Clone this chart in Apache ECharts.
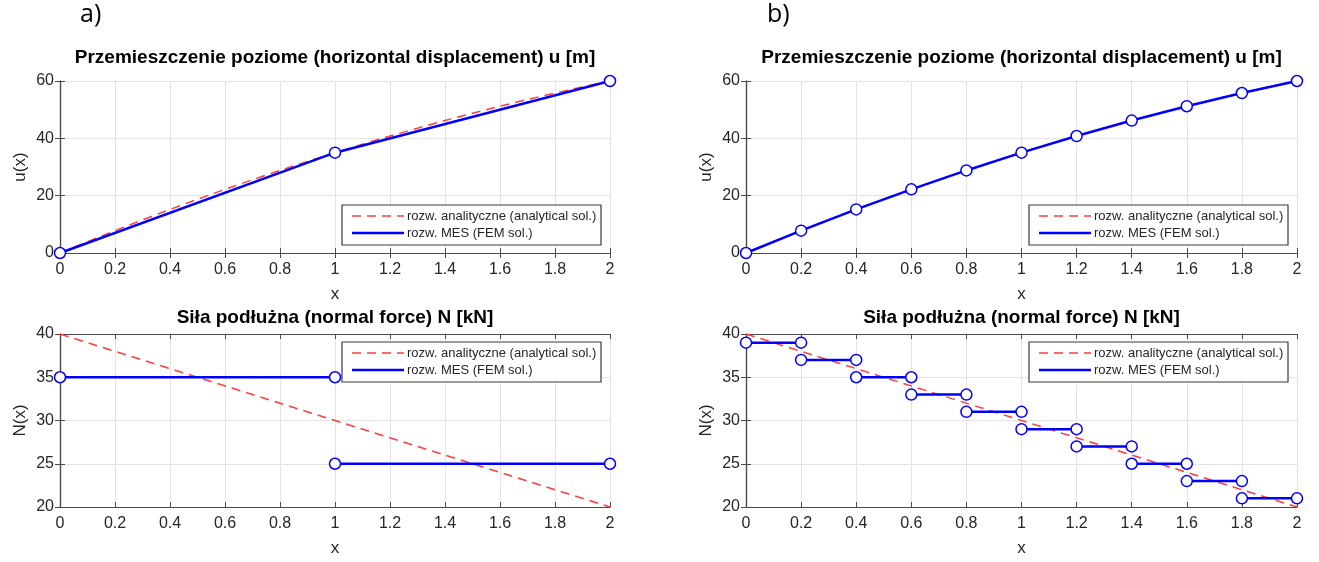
<!DOCTYPE html>
<html>
<head>
<meta charset="utf-8">
<script src="https://cdn.jsdelivr.net/npm/echarts@6/dist/echarts.min.js"></script>
<style>
html,body{margin:0;padding:0;background:#fff;}
#c{width:1319px;height:562px;}
</style>
</head>
<body>
<div id="c"></div>
<script>
// ---------- data ----------
const xTicks = [0, 0.2, 0.4, 0.6, 0.8, 1, 1.2, 1.4, 1.6, 1.8, 2];
const uTicks = [0, 20, 40, 60];
const nTicks = [20, 25, 30, 35, 40];

// analytical displacement u(x)
const xAnalytic = [0, 0.1, 0.2, 0.3, 0.4, 0.5, 0.6, 0.7, 0.8, 0.9, 1, 1.1, 1.2, 1.3, 1.4, 1.5, 1.6, 1.7, 1.8, 1.9, 2];
const uAnalytic = [0, 3.95, 7.8, 11.55, 15.2, 18.75, 22.2, 25.55, 28.8, 31.95, 35, 37.95, 40.8, 43.55, 46.2, 48.75, 51.2, 53.55, 55.8, 57.95, 60];
// analytical normal force N(x)
const xNAnalytic = [0, 2];
const nAnalytic = [40, 20];

// FEM, case a) 2 elements
const nodesA = [0, 1, 2];
const uFemA = [0, 35, 60];
const nFemA = [35, 25];
// FEM, case b) 10 elements
const nodesB = [0, 0.2, 0.4, 0.6, 0.8, 1, 1.2, 1.4, 1.6, 1.8, 2];
const uFemB = [0, 7.8, 15.2, 22.2, 28.8, 35, 40.8, 46.2, 51.2, 55.8, 60];
const nFemB = [39, 37, 35, 33, 31, 29, 27, 25, 23, 21];

const titleU = 'Przemieszczenie poziome (horizontal displacement) u [m]';
const titleN = 'Siła podłużna (normal force) N [kN]';
const legAnalytic = 'rozw. analityczne (analytical sol.)';
const legFem = 'rozw. MES (FEM sol.)';

// ---------- layout ----------
const FONT = '"Liberation Sans", Arial, sans-serif';
const grids = [
  {left: 60, top: 81, width: 550, height: 172},   // a top
  {left: 60, top: 334, width: 550, height: 173},  // a bottom
  {left: 746, top: 81, width: 551, height: 172},  // b top
  {left: 746, top: 334, width: 551, height: 173}  // b bottom
];
const RED = '#ff3d3d';
const BLUE = '#0000ff';
const AX = '#4a4a4a';
const TXT = '#262626';

const xAxes = [], yAxes = [], series = [], graphics = [];

grids.forEach((g, i) => {
  const isU = (i % 2 === 0);
  const yt = isU ? uTicks : nTicks;
  const ymin = yt[0], ymax = yt[yt.length - 1], yint = yt[1] - yt[0];
  const xmin = xTicks[0], xmax = xTicks[xTicks.length - 1], xint = 0.2;
  // bottom x
  xAxes.push({
    gridIndex: i, type: 'value', min: xmin, max: xmax, interval: xint,
    axisLine: {show: true, lineStyle: {color: AX, width: 1.2}},
    axisTick: {show: true, inside: true, length: 5, lineStyle: {color: AX}},
    axisLabel: {color: TXT, fontSize: 16, fontFamily: FONT, margin: 9},
    splitLine: {show: true, lineStyle: {color: '#e3e3e3', width: 1}},
    name: 'x', nameLocation: 'middle', nameGap: 33,
    nameTextStyle: {color: TXT, fontSize: 17, fontFamily: FONT}
  });
  // top x (box)
  xAxes.push({
    gridIndex: i, type: 'value', position: 'top', min: xmin, max: xmax, interval: xint,
    axisLine: {show: true, lineStyle: {color: AX, width: 1.2}},
    axisTick: {show: true, inside: true, length: 5, lineStyle: {color: AX}},
    axisLabel: {show: false}, splitLine: {show: false}
  });
  // left y
  yAxes.push({
    gridIndex: i, type: 'value', min: ymin, max: ymax, interval: yint,
    axisLine: {show: true, lineStyle: {color: AX, width: 1.2}},
    axisTick: {show: true, inside: true, length: 5, lineStyle: {color: AX}},
    axisLabel: {color: TXT, fontSize: 16, fontFamily: FONT, margin: 6},
    splitLine: {show: true, lineStyle: {color: '#e3e3e3', width: 1}},
    name: isU ? 'u(x)' : 'N(x)', nameLocation: 'middle', nameGap: 31,
    nameTextStyle: {color: TXT, fontSize: 17, fontFamily: FONT}
  });
  // right y (box)
  yAxes.push({
    gridIndex: i, type: 'value', position: 'right', min: ymin, max: ymax, interval: yint,
    axisLine: {show: true, lineStyle: {color: AX, width: 1.2}},
    axisTick: {show: true, inside: true, length: 5, lineStyle: {color: AX}},
    axisLabel: {show: false}, splitLine: {show: false}
  });

  // title
  graphics.push({
    type: 'text', x: g.left + g.width / 2, y: isU ? 58 : 318,
    style: {text: isU ? titleU : titleN, font: 'bold 19px ' + FONT, fill: '#000',
      textAlign: 'center', textVerticalAlign: 'middle'}
  });

  // legend box
  const bw = 259, bh = 40;
  const bx = g.left + g.width - bw - 9;
  const by = isU ? g.top + g.height - bh - 8 : g.top + 8;
  graphics.push({type: 'rect', shape: {x: bx, y: by, width: bw, height: bh},
    style: {fill: '#fff', stroke: '#3a3a3a', lineWidth: 1.2}, z: 100});
  graphics.push({type: 'line', shape: {x1: bx + 10, y1: by + 11, x2: bx + 62, y2: by + 11},
    style: {stroke: RED, lineWidth: 1.5, lineDash: [9, 6]}, z: 101});
  graphics.push({type: 'line', shape: {x1: bx + 10, y1: by + 28, x2: bx + 62, y2: by + 28},
    style: {stroke: BLUE, lineWidth: 2.5}, z: 101});
  graphics.push({type: 'text', x: bx + 65, y: by + 11,
    style: {text: legAnalytic, font: '13px ' + FONT, fill: TXT, textVerticalAlign: 'middle'}, z: 101});
  graphics.push({type: 'text', x: bx + 65, y: by + 28,
    style: {text: legFem, font: '13px ' + FONT, fill: TXT, textVerticalAlign: 'middle'}, z: 101});
});

function pairs(xs, ys) { return xs.map((x, k) => [x, ys[k]]); }

const femSym = {symbol: 'circle', symbolSize: 11, showAllSymbol: true,
  itemStyle: {color: '#fff', borderColor: BLUE, borderWidth: 1.5}};

function analyticU(i) {
  series.push({type: 'line', xAxisIndex: 2 * i, yAxisIndex: 2 * i, data: pairs(xAnalytic, uAnalytic),
    symbol: 'none', lineStyle: {color: RED, width: 1.5, type: [9, 6]}, z: 2, silent: true, animation: false});
}
function analyticN(i) {
  series.push({type: 'line', xAxisIndex: 2 * i, yAxisIndex: 2 * i, data: pairs(xNAnalytic, nAnalytic),
    symbol: 'none', lineStyle: {color: RED, width: 1.5, type: [9, 6]}, z: 2, silent: true, animation: false});
}
function femU(i, nodes, vals) {
  series.push(Object.assign({type: 'line', xAxisIndex: 2 * i, yAxisIndex: 2 * i, data: pairs(nodes, vals),
    lineStyle: {color: BLUE, width: 2.5}, z: 3, silent: true, animation: false}, femSym));
}
function femN(i, nodes, vals) {
  vals.forEach((v, k) => {
    series.push(Object.assign({type: 'line', xAxisIndex: 2 * i, yAxisIndex: 2 * i,
      data: [[nodes[k], v], [nodes[k + 1], v]],
      lineStyle: {color: BLUE, width: 2.5}, z: 3, silent: true, animation: false}, femSym));
  });
}

analyticU(0); femU(0, nodesA, uFemA);
analyticN(1); femN(1, nodesA, nFemA);
analyticU(2); femU(2, nodesB, uFemB);
analyticN(3); femN(3, nodesB, nFemB);

graphics.push({type: 'text', x: 80, y: 15, style: {text: 'a)', font: '25px "Open Sans", sans-serif', fill: '#000', textVerticalAlign: 'middle'}});
graphics.push({type: 'text', x: 767, y: 15, style: {text: 'b)', font: '25px "Open Sans", sans-serif', fill: '#000', textVerticalAlign: 'middle'}});

const chart = echarts.init(document.getElementById('c'), null, {renderer: 'canvas'});
chart.setOption({
  animation: false,
  backgroundColor: '#fff',
  grid: grids.map(g => Object.assign({containLabel: false}, g)),
  xAxis: xAxes,
  yAxis: yAxes,
  series: series,
  graphic: graphics
});
</script>
</body>
</html>
